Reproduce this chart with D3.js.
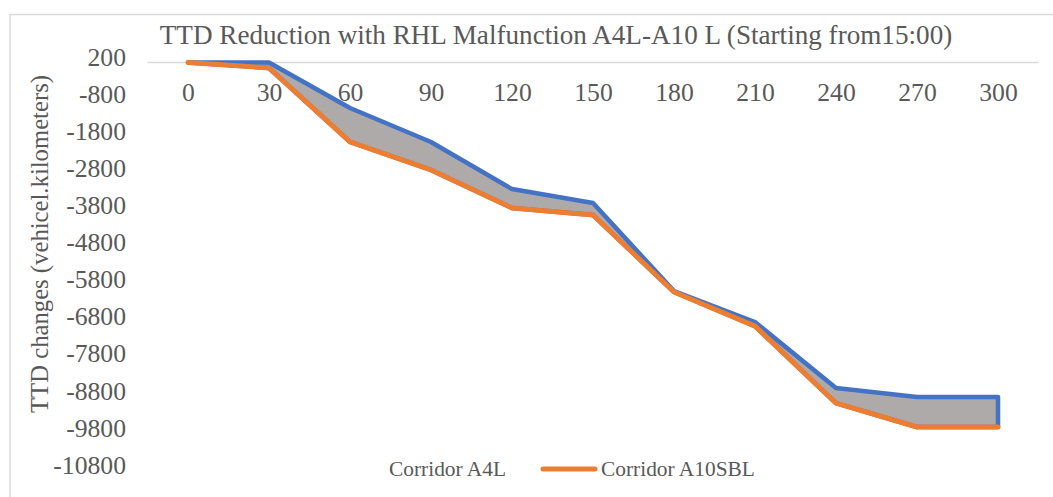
<!DOCTYPE html>
<html>
<head>
<meta charset="utf-8">
<script src="https://cdn.jsdelivr.net/npm/d3@7"></script>
<style>
  html, body { margin: 0; padding: 0; background: #fff; }
  svg { display: block; }
  text { font-family: "Liberation Serif", "DejaVu Serif", serif; fill: #595959; }
</style>
</head>
<body>
<svg id="chart" width="1053" height="497"></svg>
<script>
// Minutes after 15:00
const minutes = [0, 30, 60, 90, 120, 150, 180, 210, 240, 270, 300];
// TTD change, vehicle-kilometres
const corridorA4L = [0, 0, -1230, -2145, -3415, -3790, -6165, -7000, -8780, -9020, -9020];
const corridorA10SBL = [0, -150, -2140, -2900, -3925, -4115, -6190, -7110, -9185, -9830, -9830];
const yTicks = [200, -800, -1800, -2800, -3800, -4800, -5800, -6800, -7800, -8800, -9800, -10800];
const seriesNames = ["Corridor A4L", "Corridor A10SBL"];
const titleText = "TTD Reduction with RHL Malfunction A4L-A10 L (Starting from15:00)";
const yTitleText = "TTD changes (vehicel.kilometers)";

const BLUE = "#4472C4", ORANGE = "#ED7D31", FILL = "#AEAAAA", GRID = "#D9D9D9";

const svg = d3.select("#chart");

// font size that makes a string span a given width
function fitSize(str, width) {
  const t = svg.append("text").attr("font-size", 100).text(str);
  const w = t.node().getComputedTextLength();
  t.remove();
  return 100 * width / w;
}
const tickSize = fitSize("300", 38.5);
const titleSize = fitSize(titleText, 793);
const yTitleSize = fitSize(yTitleText, 338);
const legendSize = fitSize("Corridor A10SBL", 154);

// chart frame
svg.append("rect")
  .attr("x", 10).attr("y", 14.5).attr("width", 1100).attr("height", 600)
  .attr("fill", "none").attr("stroke", GRID).attr("stroke-width", 1.5);

const x = d3.scalePoint().domain(minutes).range([188, 998]);
const y = d3.scaleLinear().domain([200, -10800]).range([55, 463]);
const band = x.step();

const rows = minutes.map((m, i) => ({ m, a: corridorA4L[i], b: corridorA10SBL[i] }));

// category axis line at zero
svg.append("line")
  .attr("x1", x(minutes[0]) - band / 2).attr("x2", x(minutes[minutes.length - 1]) + band / 2)
  .attr("y1", y(0)).attr("y2", y(0))
  .attr("stroke", GRID).attr("stroke-width", 1.5);

// shaded gap between the two corridors, outlined in blue
const gap = d3.area()
  .x(d => x(d.m))
  .y0(d => y(d.b))
  .y1(d => y(d.a));
svg.append("path")
  .datum(rows)
  .attr("d", gap)
  .attr("fill", FILL)
  .attr("stroke", BLUE)
  .attr("stroke-width", 4.5)
  .attr("stroke-linejoin", "round");

// A10SBL line
const line = d3.line().x(d => x(d.m)).y(d => y(d.b));
svg.append("path")
  .datum(rows)
  .attr("d", line)
  .attr("fill", "none")
  .attr("stroke", ORANGE)
  .attr("stroke-width", 5)
  .attr("stroke-linejoin", "round")
  .attr("stroke-linecap", "round");

// value axis labels (plain hyphen for negatives)
const yAxis = svg.append("g")
  .attr("transform", "translate(148,2)")
  .call(d3.axisLeft(y).tickValues(yTicks).tickSize(0).tickPadding(22).tickFormat(d => String(d)));
yAxis.select(".domain").remove();
yAxis.selectAll("text")
  .attr("font-family", null)
  .style("font-size", tickSize + "px")
  .attr("fill", "#595959");

// category labels
const xAxis = svg.append("g")
  .attr("transform", `translate(0,${y(0)})`)
  .call(d3.axisBottom(x).tickSize(0).tickPadding(20));
xAxis.select(".domain").remove();
xAxis.selectAll("text")
  .attr("font-family", null)
  .style("font-size", tickSize + "px")
  .attr("fill", "#595959");

// title
svg.append("text")
  .attr("x", 556).attr("y", 44)
  .attr("text-anchor", "middle")
  .style("font-size", titleSize + "px")
  .text(titleText);

// value axis title
svg.append("text")
  .attr("transform", "translate(48,244) rotate(-90)")
  .attr("text-anchor", "middle")
  .style("font-size", yTitleSize + "px")
  .text(yTitleText);

// legend
const legend = svg.append("g");
legend.append("rect")
  .attr("x", 370).attr("y", 464).attr("width", 10).attr("height", 10)
  .attr("fill", "#fff");
legend.append("text")
  .attr("x", 389).attr("y", 469).attr("dy", "0.32em")
  .style("font-size", legendSize + "px")
  .text(seriesNames[0]);
legend.append("line")
  .attr("x1", 543).attr("x2", 595).attr("y1", 469).attr("y2", 469)
  .attr("stroke", ORANGE).attr("stroke-width", 5).attr("stroke-linecap", "round");
legend.append("text")
  .attr("x", 601).attr("y", 469).attr("dy", "0.32em")
  .style("font-size", legendSize + "px")
  .text(seriesNames[1]);
</script>
</body>
</html>
